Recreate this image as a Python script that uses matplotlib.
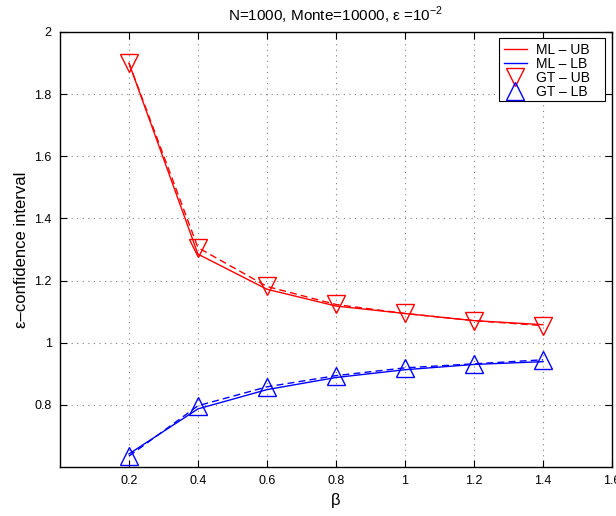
import matplotlib
matplotlib.use("Agg")
import matplotlib.pyplot as plt
from matplotlib.patches import Rectangle

plt.rcParams['font.family'] = ['Liberation Sans', 'DejaVu Sans']
plt.rcParams['mathtext.fontset'] = 'custom'
plt.rcParams['mathtext.rm'] = 'Liberation Sans'

beta = [0.2, 0.4, 0.6, 0.8, 1.0, 1.2, 1.4]
ml_ub = [1.900, 1.285, 1.172, 1.118, 1.094, 1.071, 1.058]
ml_lb = [0.642, 0.787, 0.849, 0.888, 0.913, 0.930, 0.939]
gt_ub = [1.900, 1.306, 1.181, 1.123, 1.094, 1.071, 1.055]
gt_lb = [0.635, 0.797, 0.858, 0.894, 0.919, 0.932, 0.945]

xticks = [0.2, 0.4, 0.6, 0.8, 1.0, 1.2, 1.4, 1.6]
xticklabels = ['0.2', '0.4', '0.6', '0.8', '1', '1.2', '1.4', '1.6']
yticks = [0.8, 1.0, 1.2, 1.4, 1.6, 1.8, 2.0]
yticklabels = ['0.8', '1', '1.2', '1.4', '1.6', '1.8', '2']

fig = plt.figure(figsize=(6.16, 5.16), dpi=100)
ax = fig.add_axes([0.0974, 0.095, 0.896, 0.843])

ax.plot(beta, ml_ub, color='red', lw=1.0, label='ML – UB')
ax.plot(beta, ml_lb, color='blue', lw=1.0, label='ML – LB')
ax.plot(beta, gt_ub, color='red', lw=1.0, ls=(0, (5, 3)))
ax.plot(beta, gt_lb, color='blue', lw=1.0, ls=(0, (5, 3)))
ax.plot(beta, gt_ub, ls='none', marker='v', ms=13, mfc='none', mec='red',
        mew=1.0, label='GT – UB')
ax.plot(beta, gt_lb, ls='none', marker='^', ms=13, mfc='none', mec='blue',
        mew=1.0, label='GT – LB')

ax.set_xlim(0, 1.6)
ax.set_ylim(0.6, 2.0)
ax.set_xticks(xticks)
ax.set_xticklabels(xticklabels)
ax.set_yticks(yticks)
ax.set_yticklabels(yticklabels)
ax.tick_params(direction='in', top=True, right=True, length=5, width=0.8,
               labelsize=9, pad=6)
ax.grid(True, color='#808080', ls=(0, (1, 4)), lw=0.8)
for s in ax.spines.values():
    s.set_linewidth(1.0)

ax.set_title(r'N=1000, Monte=10000, ε =10$^{-2}$', fontsize=11, pad=8)
ax.set_xlabel('β', fontsize=12)
ax.set_ylabel('ε–confidence interval', fontsize=12)

# legend entries without their own frame; a wider box is drawn behind them
leg_left, leg_right, leg_top = 0.795, 0.987, 0.986
leg = ax.legend(loc='upper left', bbox_to_anchor=(leg_left, leg_top), fontsize=10,
                frameon=False, handlelength=1.7, labelspacing=0.0,
                borderpad=0.35, handletextpad=0.6, borderaxespad=0)
leg.set_zorder(6)

fig.canvas.draw()
bb = leg.get_window_extent().transformed(ax.transAxes.inverted())
bottom = bb.y0 + 0.006
box = Rectangle((leg_left, bottom), leg_right - leg_left, leg_top - bottom,
                transform=ax.transAxes, facecolor='white', edgecolor='black',
                lw=0.8, zorder=5)
ax.add_patch(box)

fig.savefig('out.png', dpi=100)
